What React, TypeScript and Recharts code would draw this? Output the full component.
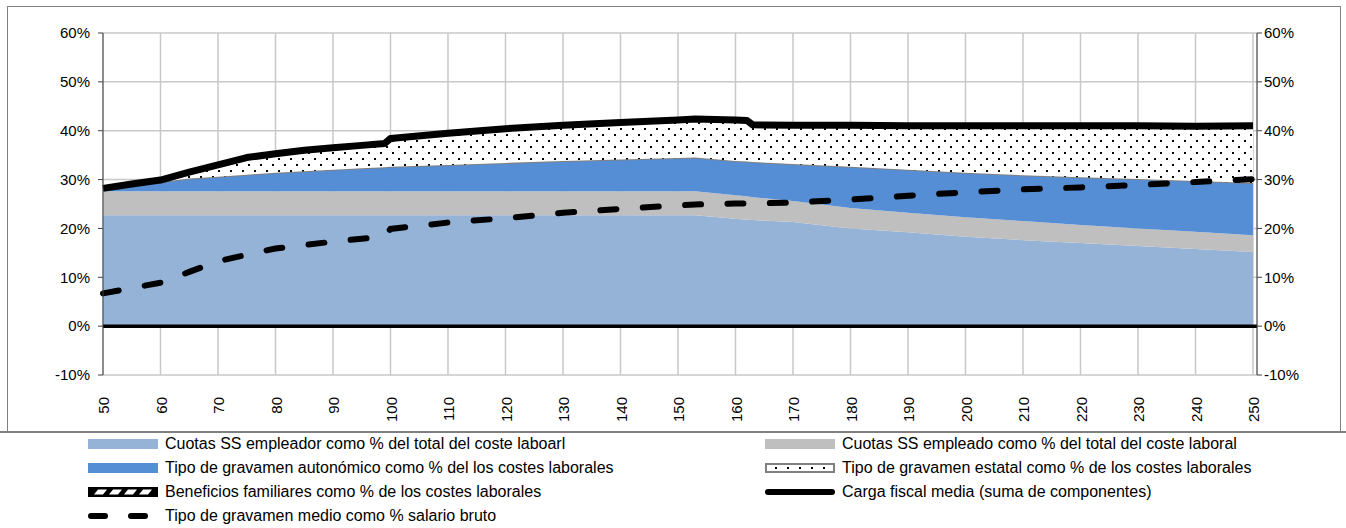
import React from "react";
import { ComposedChart, Area, Line, XAxis, YAxis, CartesianGrid, ReferenceLine } from "recharts";

// salario bruto (% del salario medio)
const salario = [50, 55, 60, 65, 70, 75, 80, 85, 90, 95, 99, 100, 110, 120, 130, 140, 150, 153, 160, 162, 163, 170, 180, 190, 200, 210, 220, 230, 240, 250];

const ssEmpleador = [22.7, 22.7, 22.7, 22.7, 22.7, 22.7, 22.7, 22.7, 22.7, 22.7, 22.7, 22.7, 22.7, 22.7, 22.7, 22.7, 22.7, 22.7, 22.0, 21.8, 21.7, 21.3, 20.0, 19.2, 18.3, 17.6, 17.0, 16.4, 15.8, 15.2];
const ssEmpleado = [4.9, 4.9, 4.9, 4.9, 4.9, 4.9, 4.9, 4.9, 4.9, 4.9, 4.9, 4.9, 4.9, 4.9, 4.9, 4.9, 4.9, 4.9, 4.8, 4.8, 4.7, 4.3, 4.2, 4.0, 4.0, 3.9, 3.7, 3.6, 3.5, 3.4];
const autonomico = [0.4, 1.2, 1.9, 2.6, 3.0, 3.4, 3.8, 4.1, 4.4, 4.7, 4.9, 5.0, 5.4, 5.8, 6.2, 6.5, 6.8, 6.9, 7.0, 7.1, 7.2, 7.6, 8.4, 8.8, 9.1, 9.4, 9.8, 10.1, 10.4, 10.7];
const estatal = [0.2, 0.3, 0.4, 1.3, 2.4, 3.5, 3.9, 4.3, 4.5, 4.7, 4.9, 5.8, 6.5, 7.0, 7.3, 7.6, 7.8, 7.9, 8.4, 8.4, 7.6, 7.9, 8.5, 9.0, 9.6, 10.1, 10.5, 10.9, 11.2, 11.7];
const beneficios = [0, 0, 0, 0, 0, 0, 0, 0, 0, 0, 0, 0, 0, 0, 0, 0, 0, 0, 0, 0, 0, 0, 0, 0, 0, 0, 0, 0, 0, 0];
const cargaFiscal = [28.2, 29.1, 29.9, 31.5, 33.0, 34.5, 35.3, 36.0, 36.5, 37.0, 37.4, 38.4, 39.5, 40.4, 41.1, 41.7, 42.2, 42.4, 42.2, 42.1, 41.2, 41.1, 41.1, 41.0, 41.0, 41.0, 41.0, 41.0, 40.9, 41.0];
const tipoMedio = [6.7, 7.8, 8.9, 11.1, 13.3, 14.6, 15.9, 16.6, 17.3, 17.9, 18.4, 19.9, 21.2, 22.1, 23.2, 24.0, 24.7, 24.9, 25.1, 25.1, 25.1, 25.3, 25.9, 26.7, 27.4, 28.0, 28.4, 28.9, 29.5, 30.1];

const xTicks = [50, 60, 70, 80, 90, 100, 110, 120, 130, 140, 150, 160, 170, 180, 190, 200, 210, 220, 230, 240, 250];
const yTicks = [-10, 0, 10, 20, 30, 40, 50, 60];

const labels = {
  empleador: "Cuotas SS empleador como % del total del coste laboarl",
  empleado: "Cuotas SS empleado como % del total del coste laboral",
  autonomico: "Tipo de gravamen autonómico como % del los costes laborales",
  estatal: "Tipo de gravamen estatal como % de los costes laborales",
  beneficios: "Beneficios familiares como % de los costes laborales",
  carga: "Carga fiscal media (suma de componentes)",
  medio: "Tipo de gravamen medio como % salario bruto",
};

const data = salario.map((s, i) => ({
  s,
  empleador: ssEmpleador[i],
  empleado: ssEmpleado[i],
  autonomico: autonomico[i],
  estatal: estatal[i],
  beneficios: beneficios[i],
  carga: cargaFiscal[i],
  medio: tipoMedio[i],
}));

const FONT = "'Liberation Sans', Arial, sans-serif";

const XTick = (props: any) => {
  const { x, y, payload } = props;
  return (
    <text
      transform={`translate(${x + 1},${y}) rotate(-90)`}
      textAnchor="end"
      dy="0.35em"
      fontSize={15}
      fontFamily={FONT}
      fill="#000"
    >
      {payload.value}
    </text>
  );
};

const Swatch = ({ kind }: { kind: string }) => {
  if (kind === "empleador") return <rect x={0} y={1} width={70} height={10} fill="#95B3D7" />;
  if (kind === "empleado") return <rect x={0} y={1} width={70} height={10} fill="#BFBFBF" />;
  if (kind === "autonomico") return <rect x={0} y={1} width={70} height={10} fill="#558ED5" />;
  if (kind === "estatal")
    return (
      <g>
        <rect x={1} y={2} width={68} height={8} fill="#fff" stroke="#808080" strokeWidth={2} />
        {[10, 22, 34, 46, 58].map((d) => (
          <rect key={d} x={d} y={5} width={2} height={2} fill="#000" />
        ))}
      </g>
    );
  if (kind === "beneficios")
    return (
      <g>
        <rect x={0} y={1} width={70} height={10} fill="#000" />
        {[6, 21, 36, 51].map((d) => (
          <polygon key={d} points={`${d},8.5 ${d + 4},3.5 ${d + 13},3.5 ${d + 9},8.5`} fill="#fff" />
        ))}
      </g>
    );
  if (kind === "carga") return <line x1={3} y1={6} x2={67} y2={6} stroke="#000" strokeWidth={6} strokeLinecap="round" />;
  return <line x1={3} y1={6} x2={67} y2={6} stroke="#000" strokeWidth={6} strokeLinecap="round" strokeDasharray="14 26" />;
};

const legendRows: [string, number, number][] = [
  ["empleador", 88, 444],
  ["empleado", 765, 444],
  ["autonomico", 88, 468],
  ["estatal", 765, 468],
  ["beneficios", 88, 492],
  ["carga", 765, 492],
  ["medio", 88, 516],
];

export default function App() {
  return (
    <div style={{ position: "absolute", left: 0, top: 0, width: 1346, height: 528, background: "#fff", fontFamily: FONT }}>
      <div style={{ position: "absolute", left: 7, top: 6, width: 1332, height: 425, border: "1px solid #808080" }} />
      <div style={{ position: "absolute", left: 0, top: 431, width: 1346, height: 2, background: "#808080" }} />
      <div style={{ position: "absolute", left: 0, top: 0 }}>
        <ComposedChart width={1346} height={432} data={data} margin={{ top: 33, right: 0, bottom: 0, left: 8 }}>
          <defs>
            <pattern id="dots" width="12" height="12" patternUnits="userSpaceOnUse">
              <rect width="12" height="12" fill="#fff" />
              <rect x="2" y="2" width="2" height="2" fill="#000" />
              <rect x="8" y="8" width="2" height="2" fill="#000" />
            </pattern>
          </defs>
          <CartesianGrid stroke="#C8C8C8" strokeWidth={1.5} />
          <XAxis
            dataKey="s"
            type="number"
            domain={[50, 250.7]}
            ticks={xTicks}
            interval={0}
            height={57}
            axisLine={false}
            tickLine={false}
            tickSize={0}
            tickMargin={22}
            tick={<XTick />}
          />
          <YAxis
            domain={[-10, 60]}
            ticks={yTicks}
            width={95}
            tickFormatter={(v) => `${v}%`}
            axisLine={{ stroke: "#404040" }}
            tickLine={{ stroke: "#404040" }}
            tickSize={5}
            tickMargin={8}
            tick={{ fill: "#000", fontSize: 15, fontFamily: FONT }}
          />
          <YAxis
            yAxisId="r"
            orientation="right"
            domain={[-10, 60]}
            ticks={yTicks}
            width={89}
            tickFormatter={(v) => `${v}%`}
            axisLine={{ stroke: "#404040" }}
            tickLine={{ stroke: "#404040" }}
            tickSize={5}
            tickMargin={2}
            tick={{ fill: "#000", fontSize: 15, fontFamily: FONT, textAnchor: "start" }}
          />
          <Area type="linear" dataKey="empleador" stackId="a" fill="#95B3D7" fillOpacity={1} stroke="none" isAnimationActive={false} />
          <Area type="linear" dataKey="empleado" stackId="a" fill="#BFBFBF" fillOpacity={1} stroke="none" isAnimationActive={false} />
          <Area type="linear" dataKey="autonomico" stackId="a" fill="#558ED5" fillOpacity={1} stroke="#808080" strokeWidth={2} isAnimationActive={false} />
          <Area type="linear" dataKey="estatal" stackId="a" fill="url(#dots)" fillOpacity={1} stroke="none" isAnimationActive={false} />
          <Area type="linear" dataKey="beneficios" stackId="a" fill="#000" fillOpacity={1} stroke="none" isAnimationActive={false} />
          <ReferenceLine y={0} stroke="#000" strokeWidth={3.5} />
          <Line type="linear" dataKey="carga" stroke="#000" strokeWidth={7} strokeLinejoin="round" dot={false} activeDot={false} isAnimationActive={false} />
          <Line
            type="linear"
            dataKey="medio"
            yAxisId="r"
            stroke="#000"
            strokeWidth={6}
            strokeLinecap="round"
            strokeDasharray="16 26.4"
            dot={false}
            activeDot={false}
            isAnimationActive={false}
          />
        </ComposedChart>
      </div>
      {legendRows.map(([k, x, y]) => (
        <div key={k} style={{ position: "absolute", left: x, top: y - 10, height: 20, display: "flex", alignItems: "center", whiteSpace: "nowrap" }}>
          <svg width={72} height={12} style={{ marginRight: 5 }}>
            <Swatch kind={k} />
          </svg>
          <span style={{ fontSize: 16, color: "#000" }}>{(labels as any)[k]}</span>
        </div>
      ))}
    </div>
  );
}
